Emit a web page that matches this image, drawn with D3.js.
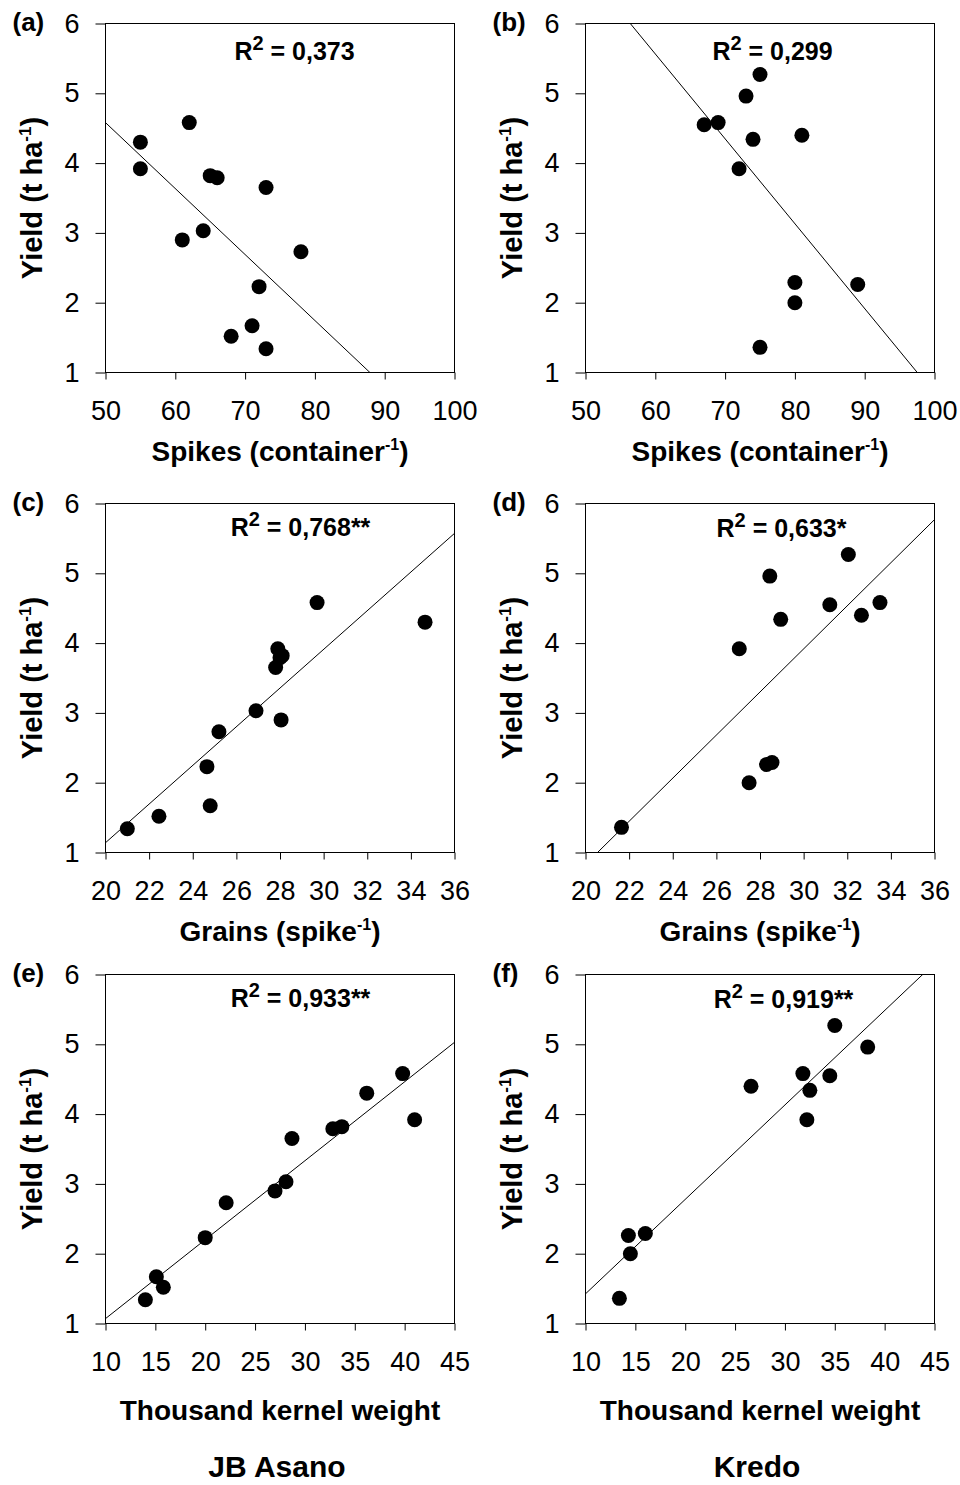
<!DOCTYPE html>
<html><head><meta charset="utf-8">
<script src="https://cdn.jsdelivr.net/npm/d3@7"></script>
<style>
body{margin:0;background:#fff}
svg text{font-family:"Liberation Sans",Arial,Helvetica,sans-serif;fill:#000}
</style>
</head><body>
<svg id="chart" width="960" height="1485"></svg>
<script>
// ---------- data ----------
const asanoYield  = [4.30, 3.92, 4.58, 3.82, 3.79, 3.65, 2.90, 3.03, 2.73, 2.23, 1.67, 1.52, 1.34];
const asanoSpikes = [55, 55, 62, 65, 66, 73, 61, 64, 78, 72, 71, 68, 73];
const asanoGrains = [34.65, 27.9, 29.7, 28.1, 28.0, 27.8, 28.05, 26.9, 25.2, 24.65, 24.8, 22.45, 21.0];
const asanoTKW    = [36.2, 41.0, 39.8, 33.7, 32.8, 28.7, 27.0, 28.1, 22.1, 20.0, 15.1, 15.8, 14.0];

const kredoYield  = [5.27, 4.96, 4.55, 4.58, 4.34, 4.40, 3.92, 2.29, 2.00, 2.26, 1.36];
const kredoSpikes = [75, 73, 67, 69, 74, 81, 72, 80, 80, 89, 75];
const kredoGrains = [32.05, 28.45, 31.2, 33.5, 28.95, 32.65, 27.05, 28.55, 27.5, 28.3, 21.65];
const kredoTKW    = [35.0, 38.3, 34.5, 31.8, 32.5, 26.6, 32.2, 16.0, 14.5, 14.3, 13.4];

const spikesTicks = [50, 60, 70, 80, 90, 100];
const grainsTicks = [20, 22, 24, 26, 28, 30, 32, 34, 36];
const tkwTicks    = [10, 15, 20, 25, 30, 35, 40, 45];
const yieldTicks  = [1, 2, 3, 4, 5, 6];

const panelLabels = ["(a)", "(b)", "(c)", "(d)", "(e)", "(f)"];
const r2Values    = ["0,373", "0,299", "0,768**", "0,633*", "0,933**", "0,919**"];
const fitSlopes     = [-0.0945, -0.1216, 0.277, 0.3087, 0.1131, 0.1353];
const fitIntercepts = [9.305, 12.86, -4.40, -5.344, -0.061, 0.072];
const cultivars = ["JB Asano", "Kredo"];

// ---------- layout ----------
const colLeft = [105.5, 585.5];
const rowTop  = [23.5, 503.5, 974.5];
const W = 349, H = 349;
const r2Pos = [[189, 36], [187, 36], [195, 32], [196, 33], [195, 32], [198, 33]];
const xTitleBase = [88, 88, 96];

const panels = [
  {x: asanoSpikes, y: asanoYield, ticks: spikesTicks, title: ["Spikes (container", "-1", ")"]},
  {x: kredoSpikes, y: kredoYield, ticks: spikesTicks, title: ["Spikes (container", "-1", ")"]},
  {x: asanoGrains, y: asanoYield, ticks: grainsTicks, title: ["Grains (spike", "-1", ")"]},
  {x: kredoGrains, y: kredoYield, ticks: grainsTicks, title: ["Grains (spike", "-1", ")"]},
  {x: asanoTKW, y: asanoYield, ticks: tkwTicks, title: ["Thousand kernel weight", "", ""]},
  {x: kredoTKW, y: kredoYield, ticks: tkwTicks, title: ["Thousand kernel weight", "", ""]}
];

const svg = d3.select("#chart");

panels.forEach((p, i) => {
  const col = i % 2, row = Math.floor(i / 2);
  const left = colLeft[col], top = rowTop[row];
  const g = svg.append("g").attr("transform", `translate(${left},${top})`);

  const x = d3.scaleLinear().domain([p.ticks[0], p.ticks[p.ticks.length - 1]]).range([0, W]);
  const y = d3.scaleLinear().domain([yieldTicks[0], yieldTicks[yieldTicks.length - 1]]).range([H, 0]);

  // axes
  const xa = g.append("g").attr("transform", `translate(0,${H})`)
    .call(d3.axisBottom(x).tickValues(p.ticks).tickSize(7).tickSizeOuter(0).tickPadding(21).tickFormat(d3.format("d")));
  const ya = g.append("g")
    .call(d3.axisLeft(y).tickValues(yieldTicks).tickSize(10).tickSizeOuter(0).tickPadding(16).tickFormat(d3.format("d")));
  [xa, ya].forEach(a => {
    a.select(".domain").remove();
    a.selectAll("line").attr("stroke", "#000").attr("stroke-width", 1);
    a.selectAll("text").attr("font-size", 27).attr("font-family", '"Liberation Sans",Arial,sans-serif').attr("fill", "#000");
  });

  // frame
  g.append("rect").attr("x", 0).attr("y", 0).attr("width", W).attr("height", H)
    .attr("fill", "none").attr("stroke", "#000").attr("stroke-width", 1);

  // regression line (clipped)
  const clipId = "clip" + i;
  g.append("clipPath").attr("id", clipId).append("rect").attr("width", W).attr("height", H);
  const x0 = x.domain()[0], x1 = x.domain()[1];
  g.append("line")
    .attr("clip-path", `url(#${clipId})`)
    .attr("x1", x(x0)).attr("y1", y(fitIntercepts[i] + fitSlopes[i] * x0))
    .attr("x2", x(x1)).attr("y2", y(fitIntercepts[i] + fitSlopes[i] * x1))
    .attr("stroke", "#000").attr("stroke-width", 1);

  // points
  g.selectAll("circle.pt").data(p.x.map((v, k) => [v, p.y[k]])).join("circle")
    .attr("class", "pt")
    .attr("cx", d => x(d[0])).attr("cy", d => y(d[1])).attr("r", 7.5).attr("fill", "#000");

  // R2 label
  const rt = g.append("text").attr("x", r2Pos[i][0]).attr("y", r2Pos[i][1])
    .attr("text-anchor", "middle").attr("font-size", 25).attr("font-weight", "bold");
  rt.append("tspan").text("R");
  rt.append("tspan").attr("font-size", 20).attr("dy", -10).text("2");
  rt.append("tspan").attr("dy", 10).text(" = " + r2Values[i]);

  // panel label
  svg.append("text").attr("x", left - 93).attr("y", top + 7)
    .attr("font-size", 26).attr("font-weight", "bold").text(panelLabels[i]);

  // x title
  const xt = g.append("text").attr("x", W / 2).attr("y", H + xTitleBase[row])
    .attr("text-anchor", "middle").attr("font-size", 28).attr("font-weight", "bold");
  xt.append("tspan").text(p.title[0]);
  if (p.title[1]) {
    xt.append("tspan").attr("font-size", 16).attr("dy", -11).text(p.title[1]);
    xt.append("tspan").attr("dy", 11).text(p.title[2]);
  }

  // y title
  const yt = g.append("text").attr("transform", `translate(${42 - left + (col ? 480 : 0)},${H / 2}) rotate(-90)`)
    .attr("text-anchor", "middle").attr("font-size", 29).attr("font-weight", "bold");
  yt.append("tspan").text("Yield (t ha");
  yt.append("tspan").attr("font-size", 17).attr("dy", -11).text("-1");
  yt.append("tspan").attr("dy", 11).text(")");
});

// cultivar names
cultivars.forEach((c, k) => {
  svg.append("text").attr("x", colLeft[k] + W / 2 - 3).attr("y", 1477)
    .attr("text-anchor", "middle").attr("font-size", 30).attr("font-weight", "bold").text(c);
});
</script>
</body></html>
